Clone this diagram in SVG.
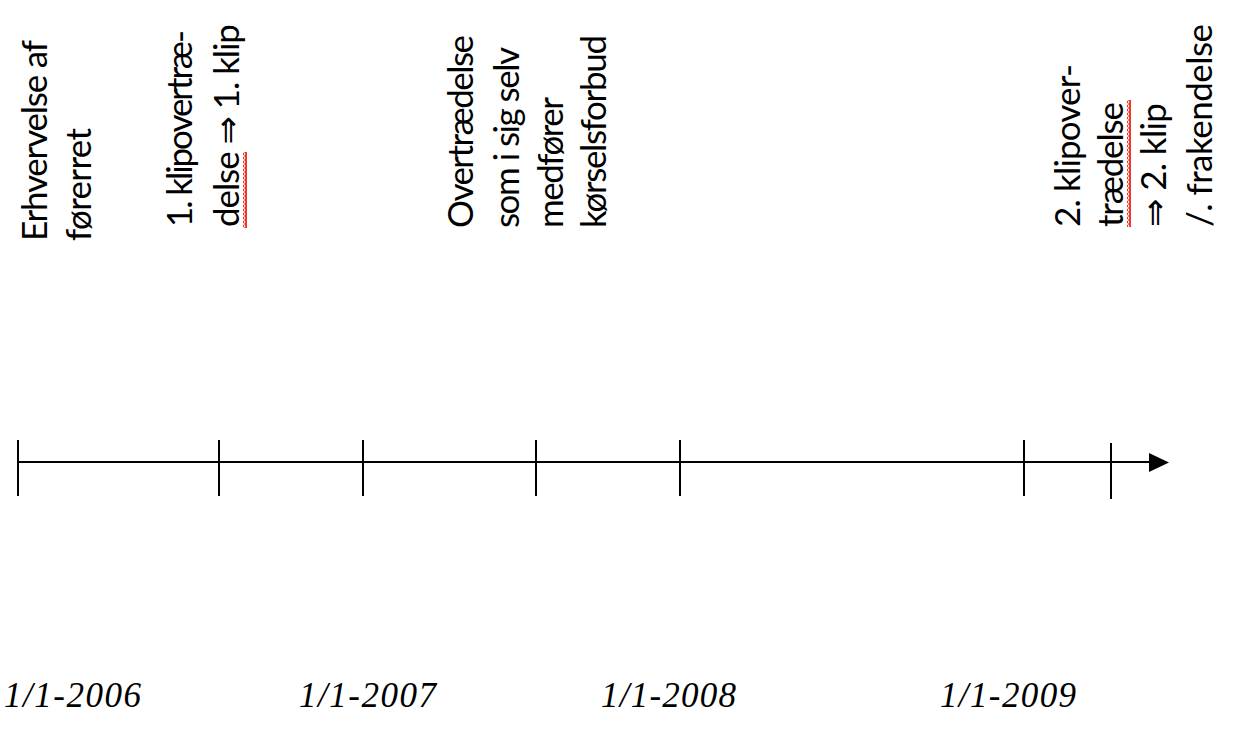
<svg xmlns="http://www.w3.org/2000/svg" width="1248" height="744" viewBox="0 0 1248 744">
<defs>
<style>
.lbl{font-family:Lato,"Open Sans","Liberation Sans",sans-serif;font-size:35px;fill:#000;}
.arrow{font-family:"DejaVu Sans","Liberation Sans",sans-serif;font-size:34px;}
.date{font-family:"Liberation Serif","DejaVu Serif",serif;font-style:italic;font-size:35px;fill:#000;}
.tick{stroke:#000;stroke-width:2;}
.axis{stroke:#000;stroke-width:2;fill:none;}
</style>
<pattern id="wave" x="0" y="0" width="4" height="4" patternUnits="userSpaceOnUse">
<path d="M0.8,0 L3.2,2 L0.8,4" stroke="#f02818" stroke-width="2" fill="none"/>
</pattern>
</defs>
<rect width="1248" height="744" fill="#fff"/>

<g id="connectors">
<line class="axis" x1="18" y1="462" x2="1150" y2="462"/>
<path d="M1149,453 L1169,462.5 L1149,472 Z" fill="#000"/>
<line class="tick" x1="18" y1="440" x2="18" y2="496"/>
<line class="tick" x1="219" y1="440" x2="219" y2="496"/>
<line class="tick" x1="363" y1="440" x2="363" y2="496"/>
<line class="tick" x1="536" y1="440" x2="536" y2="496"/>
<line class="tick" x1="680" y1="440" x2="680" y2="496"/>
<line class="tick" x1="1024" y1="440" x2="1024" y2="496"/>
<line class="tick" x1="1111" y1="443" x2="1111" y2="499"/>
</g>

<g id="event-erhvervelse">
<text class="lbl" transform="translate(47,241) rotate(-90)" textLength="201">Erhvervelse af</text>
<text class="lbl" transform="translate(91,241) rotate(-90)" textLength="113">førerret</text>
</g>

<g id="event-klip1">
<text class="lbl" transform="translate(192,227) rotate(-90)" textLength="197">1. klipovertræ-</text>
<text class="lbl" transform="translate(239,227) rotate(-90)" textLength="203">delse <tspan class="arrow">⇒</tspan> 1. klip</text>
<rect x="243" y="152" width="4" height="76" fill="url(#wave)"/>
</g>

<g id="event-forbud">
<text class="lbl" transform="translate(473,228) rotate(-90)" textLength="193">Overtrædelse</text>
<text class="lbl" transform="translate(519,228) rotate(-90)" textLength="181">som i sig selv</text>
<text class="lbl" transform="translate(563,228) rotate(-90)" textLength="131">medfører</text>
<text class="lbl" transform="translate(606,228) rotate(-90)" textLength="193">kørselsforbud</text>
</g>

<g id="event-klip2">
<text class="lbl" transform="translate(1080,227) rotate(-90)" textLength="163">2. klipover-</text>
<text class="lbl" transform="translate(1123,227) rotate(-90)" textLength="125">trædelse</text>
<rect x="1127" y="100" width="4" height="127" fill="url(#wave)"/>
<text class="lbl" transform="translate(1166,227) rotate(-90)" textLength="124"><tspan class="arrow">⇒</tspan> 2. klip</text>
<text class="lbl" transform="translate(1212,227) rotate(-90)" textLength="203">/. frakendelse</text>
</g>

<g id="dates">
<text class="date" x="4" y="707" textLength="137">1/1-2006</text>
<text class="date" x="299" y="707" textLength="137">1/1-2007</text>
<text class="date" x="601" y="707" textLength="135">1/1-2008</text>
<text class="date" x="940" y="707" textLength="136">1/1-2009</text>
</g>
</svg>
